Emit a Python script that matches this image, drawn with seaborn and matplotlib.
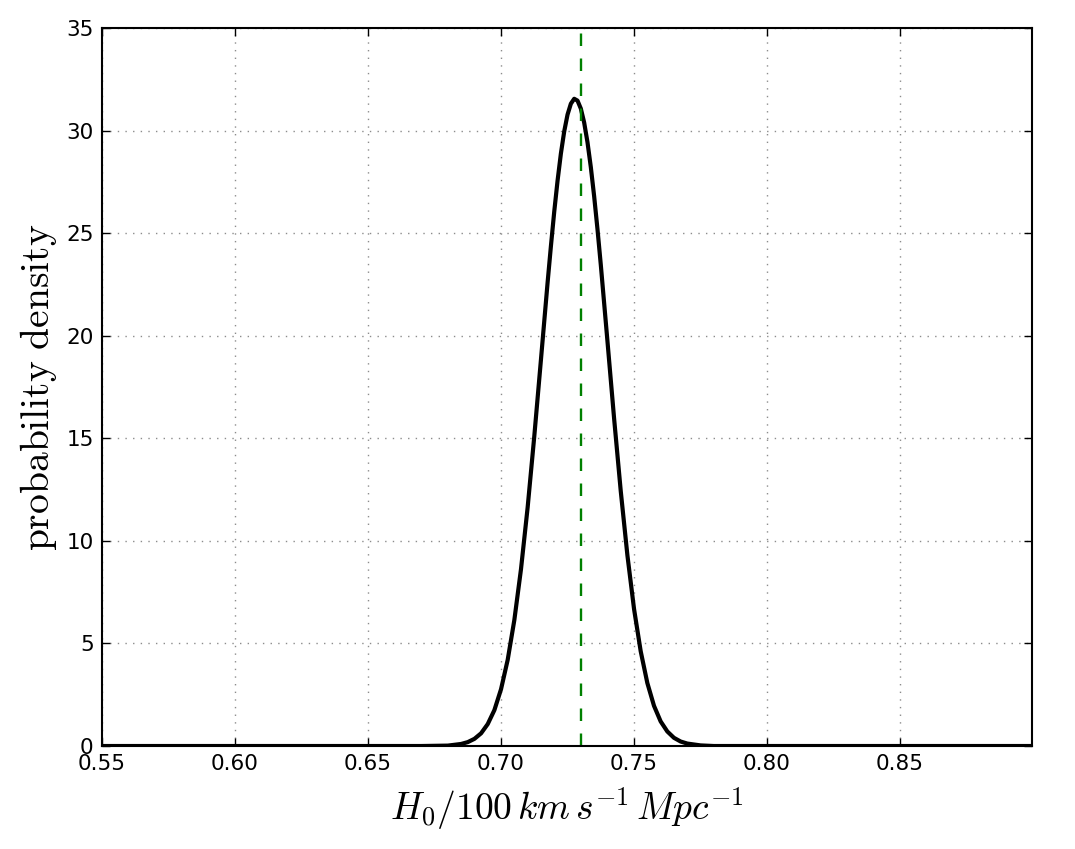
import matplotlib
matplotlib.use("Agg")
import matplotlib.pyplot as plt
import seaborn as sns
import pandas as pd

# values
h0 = [0.550, 0.600, 0.650, 0.670, 0.680, 0.685, 0.6875, 0.690, 0.6925, 0.695,
      0.6975, 0.700, 0.7025, 0.705, 0.7075, 0.710, 0.7125, 0.715, 0.7175, 0.71875,
      0.720, 0.72125, 0.7225, 0.72375, 0.725, 0.72625, 0.7275, 0.72875, 0.730, 0.73125,
      0.7325, 0.73375, 0.735, 0.73625, 0.7375, 0.740, 0.7425, 0.745, 0.7475, 0.750,
      0.7525, 0.755, 0.7575, 0.760, 0.7625, 0.765, 0.7675, 0.770, 0.775, 0.780,
      0.800, 0.850, 0.900]
density = [0.0, 0.0, 0.0, 0.0, 0.02, 0.10, 0.19, 0.35, 0.62, 1.07,
           1.75, 2.77, 4.20, 6.14, 8.62, 11.63, 15.10, 18.83, 22.59, 24.37,
           26.05, 27.56, 28.88, 29.96, 30.78, 31.31, 31.55, 31.46, 31.07, 30.39,
           29.43, 28.22, 26.80, 25.20, 23.46, 19.74, 15.97, 12.43, 9.30, 6.68,
           4.62, 3.07, 1.96, 1.20, 0.71, 0.40, 0.22, 0.12, 0.03, 0.0,
           0.0, 0.0, 0.0]
h0_ref = 0.73

xticks = [0.55, 0.60, 0.65, 0.70, 0.75, 0.80, 0.85]
yticks = [0, 5, 10, 15, 20, 25, 30, 35]

df = pd.DataFrame({"h0": h0, "density": density})

sns.set_style("ticks")
plt.rcParams["font.family"] = ["DejaVu Sans"]
plt.rcParams["mathtext.fontset"] = "cm"
plt.rcParams["lines.scale_dashes"] = False
plt.rcParams["text.color"] = "black"
plt.rcParams["axes.labelcolor"] = "black"

fig = plt.figure(figsize=(10.75, 8.49), dpi=100)
ax = fig.add_axes([0.0949, 0.1213, 0.8651, 0.8457])

sns.lineplot(data=df, x="h0", y="density", color="black", linewidth=3.0, ax=ax)
ax.axvline(h0_ref, color="green", linestyle="--", dashes=(9, 9), linewidth=1.7)

ax.set_xlim(0.55, 0.8996)
ax.set_ylim(0, 35)
ax.set_xticks(xticks)
ax.set_xticklabels([f"{t:.2f}" for t in xticks])
ax.set_yticks(yticks)

ax.grid(True, color="0.55", linestyle=(0, (1, 4.5)), linewidth=1.0)
ax.tick_params(direction="in", length=6, width=1, labelsize=15.5, pad=6,
               top=True, right=True, colors="black")
for s in ax.spines.values():
    s.set_linewidth(1.5)
    s.set_color("black")

ax.set_xlabel(r"$H_0/100\,km\,s^{-1}\,Mpc^{-1}$", fontsize=27, labelpad=8)
ax.set_ylabel(r"$\mathrm{probability\ density}$", fontsize=28.5, labelpad=5)

fig.savefig("out.png", dpi=100)
